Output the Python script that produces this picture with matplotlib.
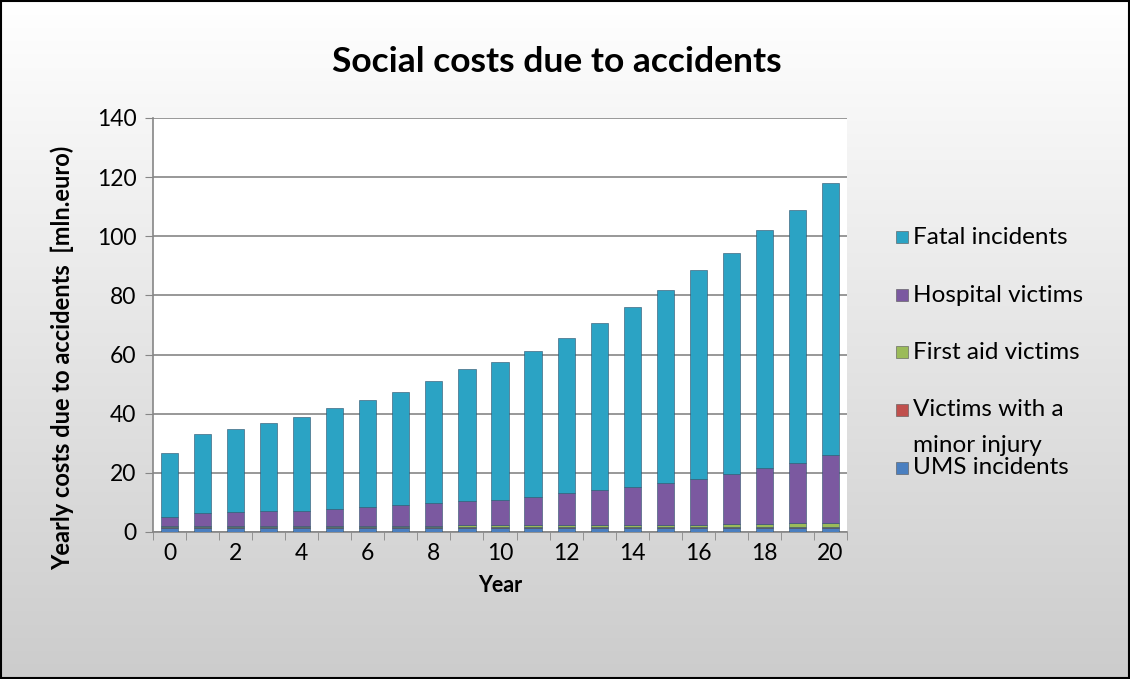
import numpy as np
import matplotlib
matplotlib.use("Agg")
import matplotlib.pyplot as plt
import matplotlib.patches as mpatch

plt.rcParams['font.family'] = ['Lato', 'DejaVu Sans']

years = list(range(21))
ums = [1.3, 1.3, 1.3, 1.3, 1.3, 1.3, 1.3, 1.3, 1.3, 1.3, 1.3,
       1.3, 1.3, 1.3, 1.3, 1.3, 1.3, 1.3, 1.3, 1.3, 1.3]
minor_injury = [0.4, 0.4, 0.4, 0.4, 0.4, 0.4, 0.4, 0.4, 0.4, 0.4, 0.4,
                0.4, 0.4, 0.4, 0.4, 0.4, 0.4, 0.4, 0.4, 0.4, 0.4]
first_aid = [0.3, 0.3, 0.3, 0.3, 0.3, 0.4, 0.4, 0.4, 0.4, 0.5, 0.5,
             0.5, 0.6, 0.6, 0.7, 0.7, 0.8, 0.9, 1.0, 1.2, 1.5]
hospital = [3.1, 4.3, 4.6, 5.1, 5.1, 5.7, 6.5, 6.9, 7.8, 8.4, 8.6,
            9.5, 10.8, 11.9, 12.7, 14.1, 15.5, 16.9, 18.8, 20.6, 22.8]
fatal = [21.5, 26.7, 28.4, 29.9, 31.9, 34.2, 36.0, 38.5, 41.1, 44.4, 46.8,
         49.5, 52.5, 56.5, 61.0, 65.5, 70.5, 75.0, 80.5, 85.5, 92.0]

series = [
    ("UMS incidents", ums, "#4a7fc0"),
    ("Victims with a\nminor injury", minor_injury, "#c0504d"),
    ("First aid victims", first_aid, "#9bbb59"),
    ("Hospital victims", hospital, "#7b59a0"),
    ("Fatal incidents", fatal, "#2ba3c4"),
]

fig = plt.figure(figsize=(11.3, 6.79), dpi=100)

# gradient background
bg = fig.add_axes([0, 0, 1, 1], zorder=-10)
grad = np.linspace(1.0, 0.80, 256).reshape(-1, 1)
bg.imshow(np.dstack([grad, grad, grad]), aspect='auto', extent=[0, 1, 0, 1])
bg.set_axis_off()
fig.patches.append(mpatch.Rectangle((0.001, 0.001), 0.998, 0.997, transform=fig.transFigure,
                                    fill=False, edgecolor='black', linewidth=1.5))

ax = fig.add_axes([153 / 1130, 147 / 679, 694 / 1130, 414 / 679])
ax.set_facecolor('white')

bottom = np.zeros(len(years))
for name, vals, col in series:
    ax.bar(years, vals, width=0.52, bottom=bottom, color=col,
           edgecolor='#2d4f6a', linewidth=0.4, zorder=3)
    bottom += np.array(vals)

ax.set_xlim(-0.5, 20.5)
ax.set_ylim(0, 140)
ax.set_yticks(range(0, 141, 20))
ax.set_xticks(range(0, 21, 2))
ax.set_xticks(np.arange(-0.5, 21, 1), minor=True)
ax.tick_params(axis='x', which='major', length=0, labelsize=16.5, pad=8)
ax.tick_params(axis='x', which='minor', length=6, color='#868686')
ax.tick_params(axis='y', length=6, color='#868686', labelsize=16.5, pad=6)
ax.grid(axis='y', color='#868686', linewidth=1.2, zorder=0)
ax.set_axisbelow(True)
for s in ['top', 'right']:
    ax.spines[s].set_visible(False)
for s in ['left', 'bottom']:
    ax.spines[s].set_color('#868686')
    ax.spines[s].set_linewidth(1.2)

ax.set_xlabel("Year", fontsize=15.5, fontweight='bold')
ax.xaxis.set_label_coords(0.5, -0.105)
ax.set_ylabel("Yearly costs due to accidents  [mln.euro)", fontsize=17,
              fontweight='bold')
ax.yaxis.set_label_coords(-0.113, 0.42)
fig.text(0.493, 0.908, "Social costs due to accidents", fontsize=25.5,
         fontweight='bold', ha='center', va='center')

# legend, drawn the way the spreadsheet lays it out
leg_items = [
    ("Fatal incidents", "#2ba3c4", 237),
    ("Hospital victims", "#7b59a0", 295),
    ("First aid victims", "#9bbb59", 352),
    ("Victims with a", "#c0504d", 410),
    ("UMS incidents", "#4a7fc0", 468),
]
for label, col, ypix in leg_items:
    yf = 1 - ypix / 679
    fig.patches.append(mpatch.Rectangle((896 / 1130, yf - 6 / 679), 12 / 1130, 12 / 679,
                                        transform=fig.transFigure, facecolor=col,
                                        edgecolor='#555555', linewidth=0.4))
    fig.text(913 / 1130, yf, label, fontsize=17.5, va='center', ha='left')
fig.text(913 / 1130, 1 - 445 / 679, "minor injury", fontsize=17.5, va='center', ha='left')

fig.savefig("out.png", dpi=100)
